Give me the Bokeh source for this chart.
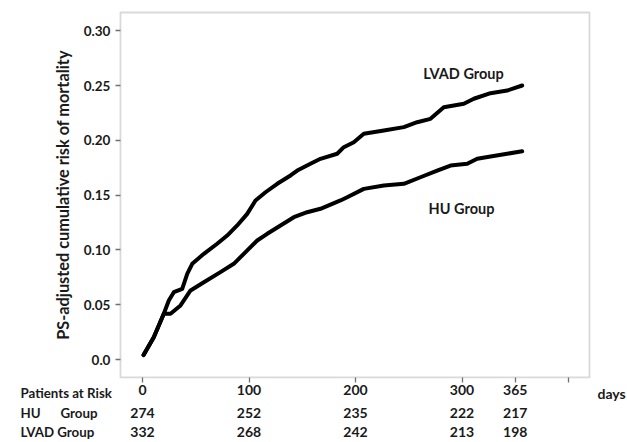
from bokeh.plotting import figure
from bokeh.models import Range1d, FixedTicker, BoxAnnotation
from bokeh.core.properties import value
from bokeh.embed import file_html
from bokeh.resources import INLINE

# ---- data ----
lvad_days = [1, 10.6, 20, 24.7, 29.4, 37.3, 42, 46.7, 57.6, 70.1, 79.5, 88.9, 98.3, 106.1,
             115.5, 126.5, 139, 145.3, 157.7, 167.1, 182.8, 189, 198.4, 207.8, 226.6, 245.4,
             257.9, 270.4, 282.9, 301.7, 311.1, 326.8, 342.4, 356.5]
lvad_risk = [0.004, 0.0203, 0.0417, 0.0538, 0.0614, 0.0645, 0.0782, 0.0873, 0.0964, 0.1056,
             0.1131, 0.1223, 0.1329, 0.1451, 0.1526, 0.1603, 0.1679, 0.1724, 0.1786, 0.1831,
             0.1877, 0.1937, 0.1983, 0.2059, 0.2089, 0.212, 0.2165, 0.2196, 0.2302, 0.2333,
             0.2379, 0.243, 0.2454, 0.25]

hu_days = [1, 10.6, 20, 26.3, 35.7, 45.1, 57.6, 73.2, 85.7, 95.1, 107.7, 117.1, 129.6, 142.1,
           154.6, 167.1, 185.9, 192.2, 207.8, 226.6, 245.4, 261, 276.7, 289.2, 304.9, 314.3,
           326.8, 342.4, 356.5]
hu_risk = [0.004, 0.0203, 0.0417, 0.0417, 0.0493, 0.063, 0.0705, 0.0797, 0.0873, 0.0964,
           0.1086, 0.1147, 0.1223, 0.1298, 0.1344, 0.1375, 0.1451, 0.1481, 0.1557, 0.1588,
           0.1603, 0.1663, 0.1724, 0.177, 0.1786, 0.1831, 0.1852, 0.1877, 0.19]

x_tick_pos = [0, 100, 200, 300, 350, 400]
x_tick_labels = ["0", "100", "200", "300", "365", ""]
y_ticks = [0.0, 0.05, 0.10, 0.15, 0.20, 0.25, 0.30]
y_tick_labels = ["0.0", "0.05", "0.10", "0.15", "0.20", "0.25", "0.30"]

risk_pos = [0, 100, 200, 300, 350]
hu_at_risk = [274, 252, 235, 222, 217]
lvad_at_risk = [332, 268, 242, 213, 198]

row_names = ["Patients at Risk", "HU", "Group", "LVAD Group"]
series_names = ["LVAD Group", "HU Group"]

# ---- layout (canvas = whole window; plot box drawn inside it) ----
W, H = 627, 442
PX_PER_DAY = 1.065          # horizontal scale
PX_PER_UNIT = 1096.0        # vertical scale (px per 1.0 risk)
X0_PX, Y0_PX = 142, 359     # canvas position of day 0 / risk 0
x_range = Range1d(-X0_PX / PX_PER_DAY, (W - X0_PX) / PX_PER_DAY)
y_range = Range1d(-(H - Y0_PX) / PX_PER_UNIT, Y0_PX / PX_PER_UNIT)

box_left, box_right = -20.7, 419.7        # plotting box (days)
box_bottom, box_top = -0.0164, 0.3166      # plotting box (risk)

FONT = "Lato"
TXT = "#1a1a1a"

p = figure(width=W, height=H, x_range=x_range, y_range=y_range,
           output_backend="svg", toolbar_location=None, min_border=0)
p.outline_line_color = None
p.xgrid.visible = False
p.ygrid.visible = False
p.background_fill_color = "white"
p.border_fill_color = "white"

p.add_layout(BoxAnnotation(left=box_left, right=box_right, bottom=box_bottom, top=box_top,
                           fill_color=None, line_color="#808080", line_width=1.8))

xa = p.xaxis[0]
ya = p.yaxis[0]
xa.fixed_location = box_bottom
ya.fixed_location = box_left
xa.bounds = (box_left, box_right)
ya.bounds = (box_bottom, box_top)
for ax in (xa, ya):
    ax.axis_line_color = None
    ax.major_tick_line_color = "#707070"
    ax.major_tick_line_width = 1.3
    ax.major_tick_out = 5
    ax.major_tick_in = 0
    ax.minor_tick_line_color = None
    ax.major_label_text_font = FONT
    ax.major_label_text_font_style = "bold"
    ax.major_label_text_color = TXT

xa.ticker = FixedTicker(ticks=x_tick_pos)
xa.major_label_overrides = dict(zip(x_tick_pos, x_tick_labels))
xa.major_label_text_font_size = "14px"
xa.major_label_standoff = 3

ya.ticker = FixedTicker(ticks=y_ticks)
ya.major_label_overrides = dict(zip(y_ticks, y_tick_labels))
ya.major_label_text_font_size = "13.5px"
ya.major_label_standoff = 5
ya.axis_label = "PS-adjusted cumulative risk of mortality"
ya.axis_label_text_font = FONT
ya.axis_label_text_font_style = "bold"
ya.axis_label_text_font_size = "16.3px"
ya.axis_label_text_color = TXT
ya.axis_label_standoff = 9

# curves
p.line(lvad_days, lvad_risk, line_width=4, line_color="black", line_join="round", line_cap="round")
p.line(hu_days, hu_risk, line_width=4, line_color="black", line_join="round", line_cap="round")

def txt(xs, ys, texts, align="center", size="14px"):
    p.text(x=xs, y=ys, text=texts, text_align=align, text_baseline="middle",
           text_font=value(FONT), text_font_style="bold", text_font_size=size,
           text_color=TXT)

# curve labels
txt([301.4, 299.5], [0.261, 0.1378], series_names, size="14.5px")

# patients-at-risk table
row_y = [-0.0310, -0.0484, -0.0657]
name_x = -114.6
txt([name_x, name_x, -77, name_x], [row_y[0], row_y[1], row_y[1], row_y[2]], row_names,
    align="left", size="13.3px")
txt([427.2], [row_y[0]], ["days"], align="left")
txt(risk_pos, [row_y[1]] * len(risk_pos), [str(v) for v in hu_at_risk])
txt(risk_pos, [row_y[2]] * len(risk_pos), [str(v) for v in lvad_at_risk])

open("out.html", "w").write(file_html(p, INLINE))
